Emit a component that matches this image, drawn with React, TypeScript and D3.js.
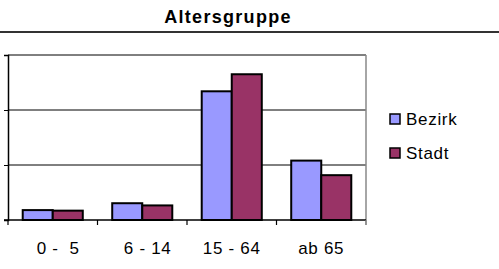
import { useEffect, useRef } from 'react';
import * as d3 from 'd3';

const CATEGORIES = ['  0 -  5', '  6 - 14', '15 - 64', 'ab 65'];
const SERIES = ['Bezirk', 'Stadt'];
const BEZIRK = [3.6, 6.1, 46.8, 21.6];
const STADT = [3.4, 5.3, 53.0, 16.3];
const Y_TICKS = [0, 20, 40, 60];

const COLORS = ['#9999ff', '#993366'];
const FONT = 'Arial, "Liberation Sans", Helvetica, sans-serif';

export default function App() {
  const svgRef = useRef<SVGSVGElement>(null);

  useEffect(() => {
    if (!svgRef.current) return;
    const svg = d3.select(svgRef.current);
    svg.selectAll('*').remove();

    const width = 499;
    const plot = { left: 8, right: 366, top: 55, bottom: 220 };

    // title + rule underneath
    svg.append('text')
      .attr('x', 228)
      .attr('y', 23)
      .attr('text-anchor', 'middle')
      .attr('font-family', FONT)
      .attr('font-size', 18)
      .attr('font-weight', 700)
      .attr('letter-spacing', 1.3)
      .attr('fill', '#000')
      .text('Altersgruppe');

    svg.append('line')
      .attr('x1', 0)
      .attr('x2', width)
      .attr('y1', 32)
      .attr('y2', 32)
      .attr('stroke', '#333')
      .attr('stroke-width', 2);

    const x0 = d3.scaleBand<string>()
      .domain(CATEGORIES)
      .range([plot.left, plot.right])
      .paddingInner(0)
      .paddingOuter(0);

    const x1 = d3.scaleBand<string>()
      .domain(SERIES)
      .range([0, x0.bandwidth()])
      .paddingInner(0)
      .paddingOuter(0.49);

    const y = d3.scaleLinear()
      .domain([0, 60])
      .range([plot.bottom, plot.top]);

    // gridlines
    svg.append('g')
      .selectAll('line')
      .data(Y_TICKS.slice(1))
      .enter()
      .append('line')
      .attr('x1', plot.left)
      .attr('x2', plot.right)
      .attr('y1', d => y(d))
      .attr('y2', d => y(d))
      .attr('stroke', '#000')
      .attr('stroke-width', 1);

    // right border of plot area
    svg.append('line')
      .attr('x1', plot.right)
      .attr('x2', plot.right)
      .attr('y1', plot.top)
      .attr('y2', plot.bottom + 5)
      .attr('stroke', '#888')
      .attr('stroke-width', 1.5);

    // bars
    const values = [BEZIRK, STADT];
    SERIES.forEach((s, si) => {
      svg.append('g')
        .selectAll('rect')
        .data(CATEGORIES.map((c, i) => ({ c, v: values[si][i] })))
        .enter()
        .append('rect')
        .attr('x', d => (x0(d.c) || 0) + (x1(s) || 0))
        .attr('y', d => y(d.v))
        .attr('width', x1.bandwidth())
        .attr('height', d => plot.bottom - y(d.v))
        .attr('fill', COLORS[si])
        .attr('stroke', '#000')
        .attr('stroke-width', 2);
    });

    // y axis
    const yAxis = svg.append('g')
      .attr('transform', `translate(${plot.left},0)`)
      .call(d3.axisLeft(y).tickValues(Y_TICKS).tickSize(4).tickFormat(() => ''));
    yAxis.select('.domain').attr('stroke', '#000').attr('stroke-width', 1.5);
    yAxis.selectAll('.tick line').attr('stroke', '#000');

    // x axis with ticks between categories
    const boundaries = CATEGORIES.map(c => x0(c) || 0).concat(plot.right);
    svg.append('line')
      .attr('x1', plot.left - 4)
      .attr('x2', plot.right)
      .attr('y1', plot.bottom)
      .attr('y2', plot.bottom)
      .attr('stroke', '#000')
      .attr('stroke-width', 1.5);
    svg.append('g')
      .selectAll('line')
      .data(boundaries)
      .enter()
      .append('line')
      .attr('x1', d => d)
      .attr('x2', d => d)
      .attr('y1', plot.bottom)
      .attr('y2', plot.bottom + 5)
      .attr('stroke', (d, i) => (i === boundaries.length - 1 ? '#888' : '#000'))
      .attr('stroke-width', 1.2);

    svg.append('g')
      .selectAll('text')
      .data(CATEGORIES)
      .enter()
      .append('text')
      .attr('x', d => (x0(d) || 0) + x0.bandwidth() / 2)
      .attr('y', 254)
      .attr('text-anchor', 'middle')
      .attr('font-family', FONT)
      .attr('font-size', 17)
      .attr('letter-spacing', 0.7)
      .style('white-space', 'pre')
      .attr('fill', '#000')
      .text(d => d);

    // legend
    const legend = svg.append('g');
    SERIES.forEach((s, i) => {
      const ly = 114 + i * 34;
      legend.append('rect')
        .attr('x', 390)
        .attr('y', ly)
        .attr('width', 10)
        .attr('height', 10)
        .attr('fill', COLORS[i])
        .attr('stroke', '#000')
        .attr('stroke-width', 1.5);
      legend.append('text')
        .attr('x', 406)
        .attr('y', ly + 11)
        .attr('font-family', FONT)
        .attr('font-size', 17)
        .attr('letter-spacing', 0.7)
        .attr('fill', '#000')
        .text(s);
    });
  }, []);

  return (
    <div style={styles.container}>
      <svg ref={svgRef} width={499} height={269} style={{ display: 'block' }} />
    </div>
  );
}

const styles: Record<string, React.CSSProperties> = {
  container: {
    position: 'absolute',
    top: 0,
    left: 0,
    width: 499,
    height: 269,
    backgroundColor: '#ffffff',
  },
};
